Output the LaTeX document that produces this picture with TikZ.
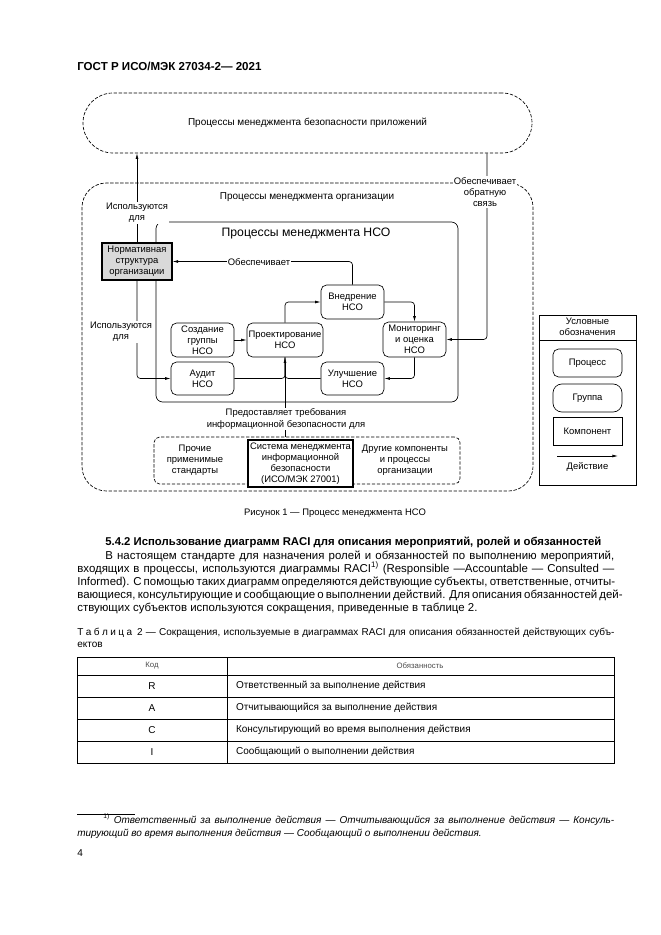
\documentclass[tikz,border=0pt]{standalone}
\usepackage{fontspec}
\setmainfont{Liberation Sans}
\usetikzlibrary{arrows.meta,positioning}

\newcommand{\dfont}{\fontsize{8.5}{10}\selectfont}
\newcommand{\mfont}{\fontsize{9}{11}\selectfont}
\newcommand{\bfont}{\fontsize{10.3}{11.7}\selectfont}
\newcommand{\tfont}{\fontsize{9}{10.5}\selectfont}
\newcommand{\ls}{\kern2.2pt}

\tikzset{
  proc/.style={draw, rounded corners=5pt, minimum width=56.7pt, minimum height=30.6pt, align=center, inner sep=1pt, font=\dfont},
  comp/.style={draw, line width=1pt, align=center, inner sep=1pt, font=\dfont},
  grp/.style={draw, dash pattern=on 3pt off 1.5pt},
  lbl/.style={fill=white, align=center, inner sep=1pt, font=\dfont},
  act/.style={-{Latex[length=5pt,width=2.6pt]}, rounded corners=3pt},
  line/.style={anchor=base west, inner sep=0pt}
}

\begin{document}
\begin{tikzpicture}[x=0.9pt, y=-0.9pt, line width=0.6pt]
      \useasboundingbox (0,0) rectangle (661,935);
      \node[line, font=\fontsize{10.4}{12}\selectfont\bfseries] (hdr) at (77,70) {ГОСТ Р ИСО/МЭК 27034-2— 2021};

      \node[grp, rounded corners=27pt, minimum width=404.1pt, minimum height=54pt, font=\mfont] (app) at (307.5,123) {Процессы менеджмента безопасности приложений};
      \node[grp, rounded corners=22pt, minimum width=405.9pt, minimum height=277.2pt] (org) at (307.5,337) {};
      \node[font=\mfont] (orgtitle) at (307,197) {Процессы менеджмента организации};
      \node[draw, rounded corners=6pt, minimum width=271.8pt, minimum height=162pt] (nso) at (307,312) {};
      \node[font=\fontsize{11}{13}\selectfont] (nsotitle) at (306,233) {Процессы менеджмента НСО};
      \node[comp, fill=black!15, minimum width=63pt, minimum height=33.3pt] (norm) at (137,261.5) {Нормативная\\структура\\организации};
      \node[proc] (impl) at (352.5,302) {Внедрение\\НСО};
      \node[proc, minimum width=68.4pt] (design) at (285,340) {Проектирование\\НСО};
      \node[proc, minimum height=31.5pt] (mon) at (414.5,339.5) {Мониторинг\\и оценка\\НСО};
      \node[proc, minimum height=29.7pt] (impr) at (352.5,378.5) {Улучшение\\НСО};
      \node[proc] (create) at (202.5,340) {Создание\\группы\\НСО};
      \node[proc, minimum height=29.7pt] (audit) at (202.5,378.5) {Аудит\\НСО};
      \node[grp, rounded corners=5pt, minimum width=275.4pt, minimum height=42.3pt] (sys) at (307,460.5) {};
      \node[comp, fill=white, minimum width=94.5pt, minimum height=42.3pt] (isms) at (300.5,463.5) {Система менеджмента\\информационной\\безопасности\\(ИСО/МЭК 27001)};
      \node[font=\dfont, align=center] (other) at (195,460) {Прочие\\применимые\\стандарты};
      \node[font=\dfont, align=center] (orgcomp) at (405,460) {Другие компоненты\\и процессы\\организации};

      \coordinate (fbx) at (487,0);
      \draw[act] (norm.north) -- (norm.north |- app.south);
      \draw[act] (app.south -| fbx) -- (fbx |- mon.east) -- (mon.east);
      \draw[act] (impl.north) |- (norm.east);
      \draw[act] (create) -- (design);
      \draw[act] (design.north) |- (impl.west);
      \draw[act] (impl.east) -| (mon.north);
      \draw[act] (mon.south) |- (impr.east);
      \draw[rounded corners=3pt] (impr.west) -| (design.south);
      \draw[rounded corners=3pt] (audit.east) -| (design.south);
      \draw[act] (design.south |- sys.north) -- (design.south);
      \draw[act] (norm.south) |- (audit.west);

      \node[lbl] (use1) at (137,213) {Используются\\для};
      \node[lbl] (use2) at (121,332) {Используются\\для};
      \node[lbl] (feedback) at (485,192) {Обеспечивает\\обратную\\связь};
      \node[lbl] (gives) at (259,262) {Обеспечивает};
      \node[lbl] (req) at (286,419) {Предоставляет требования\\информационной безопасности для};

      \node[draw, minimum width=87.3pt, minimum height=153pt] (legend) at (587.5,400) {};
      \node[font=\dfont, align=center] (legtitle) at (587.5,327) {Условные\\обозначения};
      \coordinate (legsep) at (587.5,340);
      \draw (legend.west |- legsep) -- (legend.east |- legsep);
      \node[proc, minimum width=62.1pt, minimum height=25.2pt] (legproc) at (587.5,363) {Процесс};
      \node[proc, rounded corners=8pt, minimum width=62.1pt, minimum height=25.2pt] (leggrp) at (587.5,398) {Группа};
      \node[comp, line width=0.8pt, minimum width=62.1pt, minimum height=25.2pt] (legcomp) at (587.5,431) {Компонент};
      \coordinate (acta) at (557,456);
      \coordinate (actb) at (618,456);
      \draw[act] (acta) -- (actb);
      \node[font=\dfont] (legact) at (587.5,467) {Действие};

      \node[font=\dfont] (caption) at (335,513) {Рисунок 1 — Процесс менеджмента НСО};
      \node[line, font=\fontsize{10.2}{12}\selectfont\bfseries] (head) at (105,545) {5.4.2 Использование диаграмм RACI для описания мероприятий, ролей и обязанностей};
      \node[line, font=\bfont] (par1) at (105,559) {\makebox[458.1pt][s]{В настоящем стандарте для назначения ролей и обязанностей по выполнению мероприятий,}};
      \node[line, font=\bfont] (par2) at (77,572) {\makebox[483.3pt][s]{входящих в процессы, используются диаграммы RACI\textsuperscript{1)} (Responsible —Accountable — Consulted —}};
      \node[line, font=\bfont] (par3) at (77,585) {\makebox[483.3pt][s]{Informed). С помощью таких диаграмм определяются действующие субъекты, ответственные, отчиты-}};
      \node[line, font=\bfont] (par4) at (77,598) {\makebox[483.3pt][s]{вающиеся, консультирующие и сообщающие о выполнении действий. Для описания обязанностей дей-}};
      \node[line, font=\bfont] (par5) at (77,611) {ствующих субъектов используются сокращения, приведенные в таблице 2.};

      \node[line, font=\tfont] (tab1) at (77,635) {\makebox[483.3pt][s]{Т\ls а\ls б\ls л\ls и\ls ц\ls а\enspace 2 — Сокращения, используемые в диаграммах RACI для описания обязанностей действующих субъ-}};
      \node[line, font=\tfont] (tab2) at (77,647) {ектов};
      \draw (77,657) rectangle (614,763);
      \foreach \y in {675,697,719,741}
        \draw (77,\y) -- (614,\y);
      \draw (227,657) -- (227,763);
      \node[font=\fontsize{7}{8}\selectfont, text=black!70] (hcode) at (152,666) {Код};
      \node[font=\fontsize{7}{8}\selectfont, text=black!70] (hduty) at (420,666) {Обязанность};
      \foreach \c/\d [count=\i] in {R/Ответственный за выполнение действия, A/Отчитывающийся за выполнение действия, C/Консультирующий во время выполнения действия, I/Сообщающий о выполнении действия}{
        \node[font=\tfont] (code\i) at (152,{664+22*\i}) {\c};
        \node[font=\tfont, anchor=west] (duty\i) at (232,{664+22*\i}) {\d};
      }

      \draw[line width=0.5pt] (77,814) -- (135,814);
      \node[line, font=\tfont\itshape] (fn1) at (103,823) {\makebox[459.9pt][s]{\textup{\textsuperscript{1)}} Ответственный за выполнение действия — Отчитывающийся за выполнение действия — Консуль-}};
      \node[line, font=\tfont\itshape] (fn2) at (77,836) {тирующий во время выполнения действия — Сообщающий о выполнении действия.};
      \node[line, font=\tfont] (page) at (77,856) {4};
\end{tikzpicture}
\end{document}
